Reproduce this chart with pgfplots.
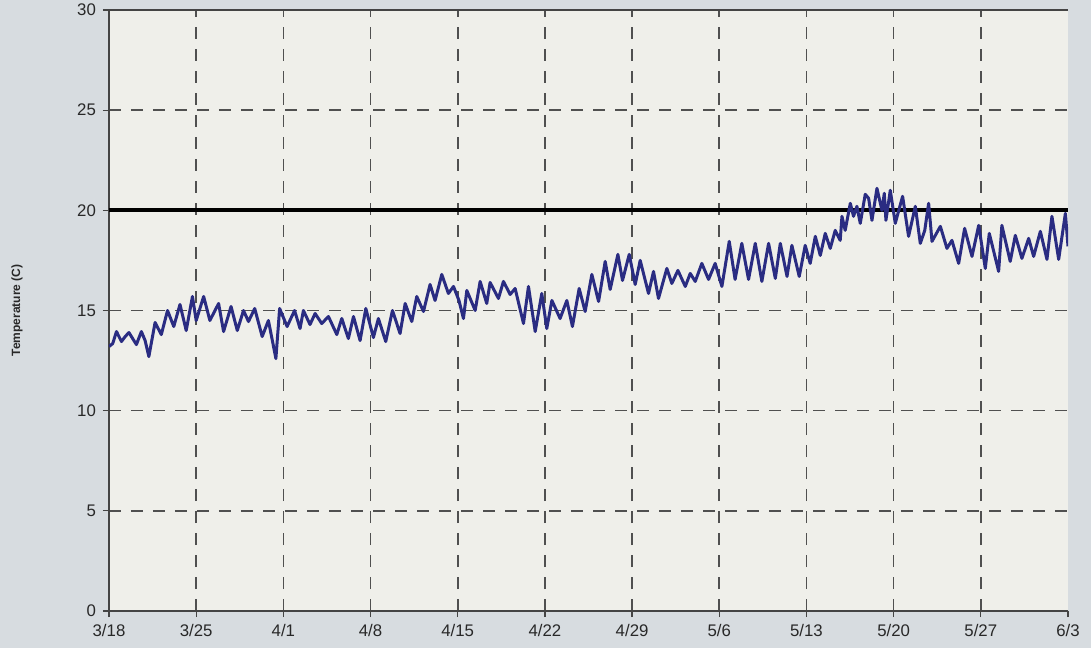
\documentclass[border=0pt]{standalone}
\usepackage{pgfplots}
\pgfplotsset{compat=1.18}
\usepackage{fontspec}
\setmainfont{Liberation Sans}
\definecolor{outerbg}{RGB}{215,220,224}
\definecolor{plotbg}{RGB}{239,239,234}
\definecolor{navyline}{RGB}{42,44,130}
\definecolor{gridcol}{RGB}{80,80,80}
\definecolor{axcol}{RGB}{68,68,68}
\definecolor{txtcol}{RGB}{40,40,40}
\pgfplotstableread{
day temp
0 13.2
0.3 13.35
0.6 13.95
1.0 13.45
1.3 13.7
1.6 13.9
2.2 13.3
2.6 13.95
2.9 13.5
3.2 12.7
3.7 14.4
4.2 13.8
4.7 15.0
5.2 14.2
5.7 15.3
6.2 14.0
6.7 15.7
7.0 14.5
7.6 15.7
8.1 14.5
8.8 15.35
9.2 13.95
9.8 15.2
10.3 14.0
10.8 15.0
11.2 14.45
11.7 15.1
12.3 13.7
12.8 14.5
13.4 12.6
13.7 15.1
14.3 14.2
14.9 15.0
15.34 14.1
15.61 15.0
16.14 14.3
16.55 14.85
17.08 14.35
17.62 14.7
18.29 13.8
18.69 14.6
19.22 13.6
19.63 14.7
20.16 13.5
20.62 15.1
21.23 13.65
21.63 14.6
22.22 13.45
22.76 15.0
23.37 13.85
23.78 15.35
24.31 14.45
24.71 15.7
25.25 14.95
25.78 16.3
26.18 15.5
26.72 16.8
27.25 15.85
27.66 16.2
28.1 15.5
28.46 14.6
28.73 16.0
29.40 15.0
29.80 16.45
30.33 15.35
30.60 16.4
31.27 15.6
31.67 16.45
32.21 15.8
32.61 16.1
33.28 14.35
33.68 16.2
34.22 13.95
34.75 15.85
35.15 14.1
35.56 15.5
36.22 14.6
36.76 15.5
37.21 14.2
37.75 16.1
38.23 14.95
38.77 16.8
39.31 15.45
39.84 17.45
40.24 16.05
40.86 17.8
41.23 16.5
41.77 17.8
42.25 16.3
42.65 17.5
43.32 15.85
43.72 16.95
44.12 15.6
44.79 17.1
45.19 16.35
45.68 17.0
46.27 16.2
46.67 16.85
47.07 16.45
47.60 17.35
48.14 16.55
48.67 17.35
49.21 16.2
49.80 18.45
50.27 16.55
50.81 18.35
51.35 16.55
51.89 18.35
52.42 16.45
52.96 18.35
53.50 16.6
53.90 18.35
54.44 16.7
54.83 18.25
55.42 16.7
55.90 18.25
56.30 17.35
56.71 18.7
57.11 17.75
57.51 18.85
57.91 18.1
58.31 19.0
58.71 18.5
58.85 19.7
59.11 19.0
59.52 20.35
59.78 19.7
60.05 20.2
60.32 19.35
60.72 20.8
60.99 20.6
61.26 19.5
61.66 21.1
62.06 20.0
62.25 20.85
62.38 19.5
62.73 21.0
63.13 19.35
63.72 20.7
64.20 18.7
64.74 20.2
65.14 18.35
65.5 19.0
65.81 20.35
66.08 18.45
66.75 19.2
67.28 18.1
67.68 18.5
68.22 17.35
68.70 19.1
69.29 17.7
69.83 19.25
70.36 17.1
70.68 18.85
71.43 16.95
71.69 19.25
72.36 17.45
72.77 18.75
73.30 17.6
73.84 18.6
74.24 17.7
74.78 18.95
75.31 17.55
75.71 19.7
76.25 17.55
76.79 19.85
77.0 18.2
}\temps
\begin{document}
\begin{tikzpicture}
\fill[outerbg] (-54.5pt,-18.5pt) rectangle (491pt,305.5pt);
\begin{axis}[
  scale only axis,
  width=479.5pt, height=300.5pt,
  xmin=0, xmax=77, ymin=0, ymax=30,
  axis lines=left,
  axis line style={-, axcol, line width=0.65pt},
  axis background/.style={fill=plotbg},
  xtick={0,7,14,21,28,35,42,49,56,63,70},
  xticklabels={3/18,3/25,4/1,4/8,4/15,4/22,4/29,5/6,5/13,5/20,5/27},
  extra x ticks={77},
  extra x tick labels={6/3},
  extra x tick style={grid=none},
  ytick={0,5,10,15,20,25,30},
  tick align=outside,
  major tick length=3pt,
  tick style={axcol, line width=0.65pt},
  grid=major,
  major grid style={gridcol, line width=0.8pt, dash pattern=on 6pt off 5pt},
  /pgf/number format/assume math mode=true,
  ticklabel style={font=\fontsize{8.4}{10}\selectfont, text=txtcol},
  ylabel={Temperature (C)},
  ylabel style={at={(axis description cs:-0.096,0.5)}, anchor=center, font=\fontsize{6}{7}\selectfont\bfseries, text=txtcol},
  clip=true,
]
\addplot[black, line width=2pt] coordinates {(0,20) (77,20)};
\addplot[navyline, line width=1.5pt, line join=round] table[x=day, y=temp] {\temps};
\draw[axcol, line width=0.65pt] (rel axis cs:0,1) -- (rel axis cs:1,1);
\end{axis}
\pgfresetboundingbox
\path[use as bounding box] (-54.5pt,-18.5pt) rectangle (491pt,305.5pt);
\end{tikzpicture}
\end{document}
